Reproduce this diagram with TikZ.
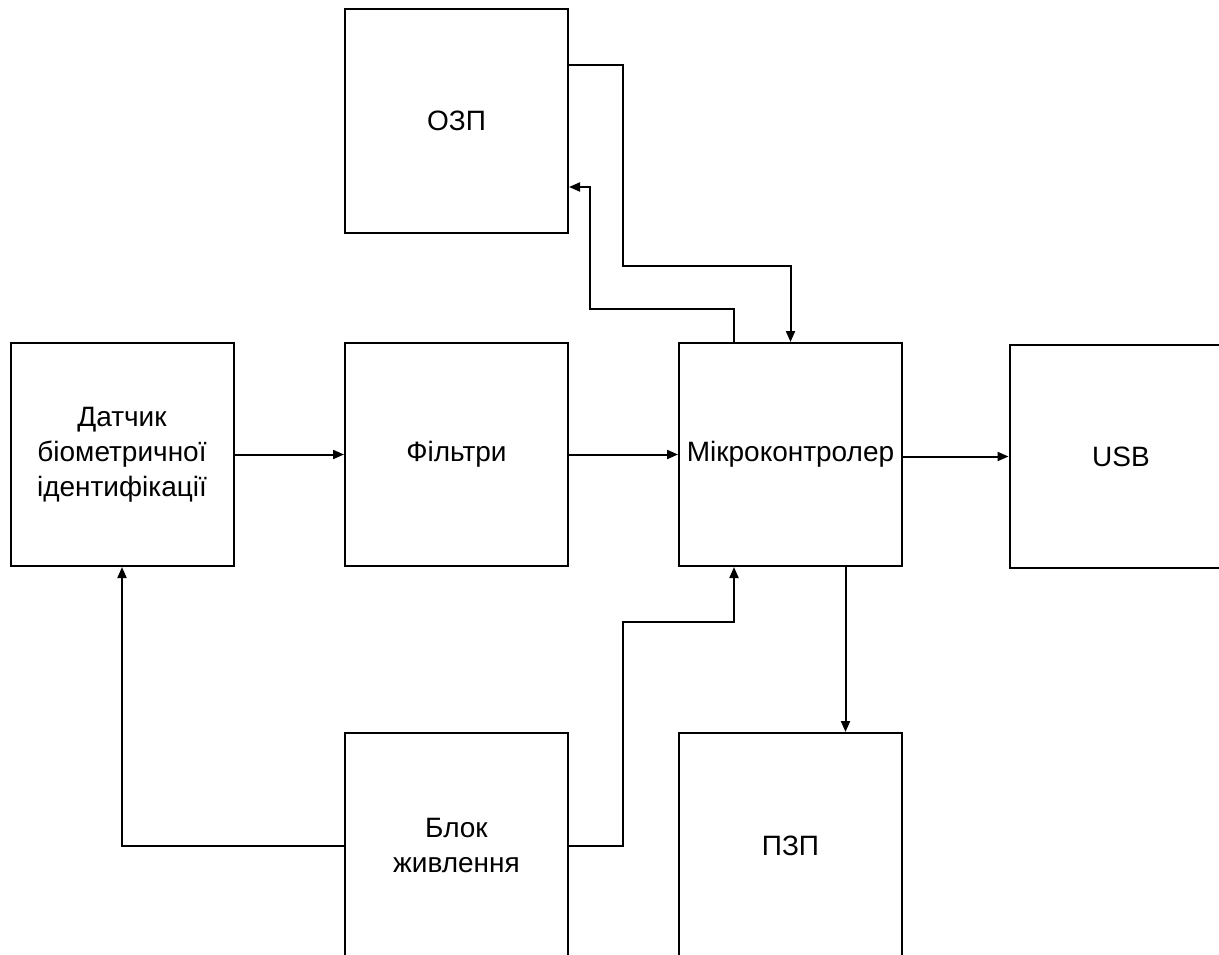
\documentclass[tikz,border=0pt]{standalone}
\usepackage{fontspec}
\setmainfont{Liberation Sans}
\usetikzlibrary{arrows.meta}
\begin{document}
\begin{tikzpicture}[x=1pt,y=-1pt,
  blockbox/.style={draw,line width=2pt,minimum width=223pt,minimum height=223pt,inner sep=2pt,align=center,
    font=\fontsize{28}{35}\selectfont},
  arr/.style={line width=2pt,-{Triangle[length=11pt,width=9pt]}}]
\useasboundingbox (0,0) rectangle (1219,955);
\node[blockbox] (ozp) at (456.5,121) {ОЗП};
\node[blockbox] (dat) at (122,454.5) {Датчик\\біометричної\\ідентифікації};
\node[blockbox] (fil) at (456.5,454.5) {Фільтри};
\node[blockbox] (mcu) at (790.5,454.5) {Мікроконтролер};
\node[blockbox] (usb) at (1121,456.5) {USB};
\node[blockbox,minimum height=225pt] (blk) at (456.5,845.5) {Блок\\живлення};
\node[blockbox,minimum height=225pt] (pzp) at (790.5,845.5) {ПЗП};
\coordinate (a1) at (623,65);
\coordinate (a2) at (623,266);
\coordinate (b1) at (734,309);
\coordinate (b2) at (590,309);
\coordinate (b3) at (590,187);
\coordinate (c1) at (623,845.5);
\coordinate (c2) at (623,622);
\coordinate (c3) at (734,622);
\draw[arr] (dat) -- (fil);
\draw[arr] (fil) -- (mcu);
\draw[arr] (mcu.east |- usb) -- (usb.west);
\draw[arr] (ozp.east |- a1) -- (a1) -- (a2) -| (mcu.north);
\draw[arr] (mcu.north -| b1) -- (b1) -- (b2) -- (b3) -- (ozp.east |- b3);
\draw[arr] (blk.west) -| (dat.south);
\draw[arr] (blk.east) -- (c1) -- (c2) -- (c3) -- (mcu.south -| c3);
\draw[arr] ([xshift=55pt]mcu.south) -- ([xshift=55pt]pzp.north);
\end{tikzpicture}
\end{document}
